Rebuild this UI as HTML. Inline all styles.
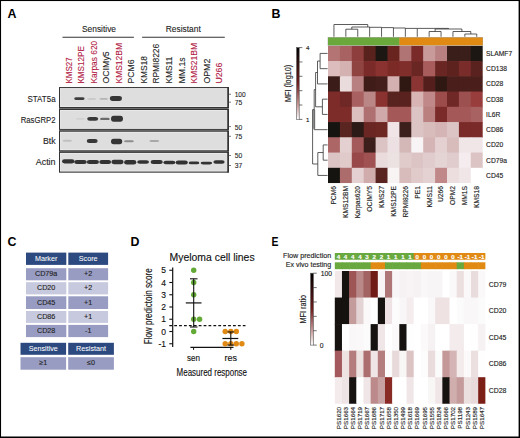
<!DOCTYPE html>
<html><head><meta charset="utf-8"><style>
html,body{margin:0;padding:0;background:#fff;}
body{width:520px;height:438px;overflow:hidden;}
svg{display:block;font-family:"Liberation Sans", sans-serif;}
</style></head><body>
<svg width="520" height="438" viewBox="0 0 520 438">
<rect x="0" y="0" width="520" height="438" fill="#fff"/>
<text x="7.60" y="18.20" font-size="12.4" fill="#000" text-anchor="start" font-weight="bold">A</text>
<text x="271.40" y="18.30" font-size="12.4" fill="#000" text-anchor="start" font-weight="bold">B</text>
<text x="7.40" y="246.20" font-size="12.4" fill="#000" text-anchor="start" font-weight="bold">C</text>
<text x="130.60" y="246.10" font-size="12.4" fill="#000" text-anchor="start" font-weight="bold">D</text>
<text x="0" y="0" font-size="12.4" font-weight="bold" fill="#000" transform="translate(271.6 245.9) scale(0.84 1)">E</text>
<text x="99.00" y="32.30" font-size="9" fill="#222" text-anchor="middle" textLength="34" lengthAdjust="spacingAndGlyphs" stroke="#222" stroke-width="0.1">Sensitive</text>
<text x="183.30" y="31.90" font-size="9" fill="#222" text-anchor="middle" textLength="35" lengthAdjust="spacingAndGlyphs" stroke="#222" stroke-width="0.1">Resistant</text>
<line x1="62.50" y1="37.20" x2="133.90" y2="37.20" stroke="#333" stroke-width="1.1"/>
<line x1="142.10" y1="37.20" x2="224.80" y2="37.20" stroke="#333" stroke-width="1.1"/>
<text x="72.35" y="83.60" font-size="8.6" fill="#b0173f" text-anchor="start" textLength="26.3" lengthAdjust="spacingAndGlyphs" transform="rotate(-90 72.35 83.60)" stroke="#b0173f" stroke-width="0.1">KMS27</text>
<text x="84.25" y="83.60" font-size="8.6" fill="#b0173f" text-anchor="start" textLength="37.5" lengthAdjust="spacingAndGlyphs" transform="rotate(-90 84.25 83.60)" stroke="#b0173f" stroke-width="0.1">KMS12PE</text>
<text x="97.35" y="83.60" font-size="8.6" fill="#b0173f" text-anchor="start" textLength="42.8" lengthAdjust="spacingAndGlyphs" transform="rotate(-90 97.35 83.60)" stroke="#b0173f" stroke-width="0.1">Karpas 620</text>
<text x="109.35" y="83.60" font-size="8.6" fill="#222" text-anchor="start" textLength="32.3" lengthAdjust="spacingAndGlyphs" transform="rotate(-90 109.35 83.60)" stroke="#222" stroke-width="0.1">OCIMy5</text>
<text x="122.10" y="83.60" font-size="8.6" fill="#b0173f" text-anchor="start" textLength="40.7" lengthAdjust="spacingAndGlyphs" transform="rotate(-90 122.10 83.60)" stroke="#b0173f" stroke-width="0.1">KMS12BM</text>
<text x="134.35" y="83.60" font-size="8.6" fill="#222" text-anchor="start" textLength="24.3" lengthAdjust="spacingAndGlyphs" transform="rotate(-90 134.35 83.60)" stroke="#222" stroke-width="0.1">PCM6</text>
<text x="146.85" y="83.60" font-size="8.6" fill="#222" text-anchor="start" textLength="27.6" lengthAdjust="spacingAndGlyphs" transform="rotate(-90 146.85 83.60)" stroke="#222" stroke-width="0.1">KMS18</text>
<text x="159.35" y="83.60" font-size="8.6" fill="#222" text-anchor="start" textLength="39.8" lengthAdjust="spacingAndGlyphs" transform="rotate(-90 159.35 83.60)" stroke="#222" stroke-width="0.1">RPMI8226</text>
<text x="172.50" y="83.60" font-size="8.6" fill="#222" text-anchor="start" textLength="27.0" lengthAdjust="spacingAndGlyphs" transform="rotate(-90 172.50 83.60)" stroke="#222" stroke-width="0.1">KMS11</text>
<text x="185.30" y="83.60" font-size="8.6" fill="#222" text-anchor="start" textLength="26.3" lengthAdjust="spacingAndGlyphs" transform="rotate(-90 185.30 83.60)" stroke="#222" stroke-width="0.1">MM.1s</text>
<text x="197.50" y="83.60" font-size="8.6" fill="#b0173f" text-anchor="start" textLength="40.7" lengthAdjust="spacingAndGlyphs" transform="rotate(-90 197.50 83.60)" stroke="#b0173f" stroke-width="0.1">KMS21BM</text>
<text x="210.20" y="83.60" font-size="8.6" fill="#222" text-anchor="start" textLength="24.9" lengthAdjust="spacingAndGlyphs" transform="rotate(-90 210.20 83.60)" stroke="#222" stroke-width="0.1">OPM2</text>
<text x="222.40" y="83.60" font-size="8.6" fill="#b0173f" text-anchor="start" textLength="20.9" lengthAdjust="spacingAndGlyphs" transform="rotate(-90 222.40 83.60)" stroke="#b0173f" stroke-width="0.1">U266</text>
<rect x="59" y="87.1" width="169.8" height="85.4" fill="#7a7a7a"/>
<rect x="59.55" y="87.65" width="168.7" height="19.90" fill="#dedede" stroke="#333" stroke-width="1.1"/>
<rect x="60.5" y="88.60" width="166.8" height="18.00" fill="none" stroke="#eeeeee" stroke-width="0.7"/>
<line x1="228.05" y1="87.10" x2="228.05" y2="108.10" stroke="#2e2e2e" stroke-width="1.5"/>
<rect x="59.55" y="109.45" width="168.7" height="19.80" fill="#dedede" stroke="#333" stroke-width="1.1"/>
<rect x="60.5" y="110.40" width="166.8" height="17.90" fill="none" stroke="#eeeeee" stroke-width="0.7"/>
<line x1="228.05" y1="108.90" x2="228.05" y2="129.80" stroke="#2e2e2e" stroke-width="1.5"/>
<rect x="59.55" y="131.25" width="168.7" height="19.50" fill="#dedede" stroke="#333" stroke-width="1.1"/>
<rect x="60.5" y="132.20" width="166.8" height="17.60" fill="none" stroke="#eeeeee" stroke-width="0.7"/>
<line x1="228.05" y1="130.70" x2="228.05" y2="151.30" stroke="#2e2e2e" stroke-width="1.5"/>
<rect x="59.55" y="152.35" width="168.7" height="19.60" fill="#dedede" stroke="#333" stroke-width="1.1"/>
<rect x="60.5" y="153.30" width="166.8" height="17.70" fill="none" stroke="#eeeeee" stroke-width="0.7"/>
<line x1="228.05" y1="151.80" x2="228.05" y2="172.50" stroke="#2e2e2e" stroke-width="1.5"/>
<text x="55.60" y="101.80" font-size="9" fill="#222" text-anchor="end" textLength="28.1" lengthAdjust="spacingAndGlyphs" stroke="#222" stroke-width="0.1">STAT5a</text>
<text x="55.60" y="123.00" font-size="9" fill="#222" text-anchor="end" textLength="34.9" lengthAdjust="spacingAndGlyphs" stroke="#222" stroke-width="0.1">RasGRP2</text>
<text x="55.60" y="143.60" font-size="9" fill="#222" text-anchor="end" textLength="12.7" lengthAdjust="spacingAndGlyphs" stroke="#222" stroke-width="0.1">Btk</text>
<text x="55.60" y="164.70" font-size="9" fill="#222" text-anchor="end" textLength="19.9" lengthAdjust="spacingAndGlyphs" stroke="#222" stroke-width="0.1">Actin</text>
<defs><filter id="bl" x="-50%" y="-100%" width="200%" height="300%"><feGaussianBlur stdDeviation="0.75"/></filter></defs>
<rect x="74.20" y="97.25" width="10.40" height="2.80" rx="2.34" ry="1.40" fill="#3c3c3c" opacity="1.0" filter="url(#bl)"/>
<rect x="87.20" y="98.30" width="9.00" height="1.40" rx="2.02" ry="0.70" fill="#c4c4c4" opacity="1.0" filter="url(#bl)"/>
<rect x="99.40" y="98.10" width="8.60" height="1.60" rx="1.94" ry="0.80" fill="#b4b4b4" opacity="1.0" filter="url(#bl)"/>
<rect x="109.90" y="96.10" width="12.00" height="4.80" rx="2.70" ry="2.40" fill="#363636" opacity="1.0" filter="url(#bl)"/>
<rect x="75.90" y="118.20" width="9.00" height="1.40" rx="2.02" ry="0.70" fill="#cccccc" opacity="1.0" filter="url(#bl)"/>
<rect x="87.20" y="116.90" width="11.00" height="3.90" rx="2.48" ry="1.95" fill="#393939" opacity="1.0" filter="url(#bl)"/>
<rect x="100.10" y="117.70" width="9.60" height="2.40" rx="2.16" ry="1.20" fill="#6a6a6a" opacity="1.0" filter="url(#bl)"/>
<rect x="111.00" y="115.70" width="12.00" height="6.00" rx="2.70" ry="3.00" fill="#343434" opacity="1.0" filter="url(#bl)"/>
<rect x="62.70" y="139.80" width="9.20" height="2.00" rx="2.07" ry="1.00" fill="#c0c0c0" opacity="1.0" filter="url(#bl)"/>
<rect x="86.75" y="139.10" width="10.90" height="4.00" rx="2.45" ry="2.00" fill="#383838" opacity="1.0" filter="url(#bl)"/>
<rect x="111.00" y="138.70" width="11.20" height="5.60" rx="2.52" ry="2.80" fill="#343434" opacity="1.0" filter="url(#bl)"/>
<rect x="124.00" y="140.20" width="9.80" height="2.00" rx="2.21" ry="1.00" fill="#8c8c8c" opacity="1.0" filter="url(#bl)"/>
<rect x="149.40" y="140.10" width="9.80" height="2.00" rx="2.21" ry="1.00" fill="#a8a8a8" opacity="1.0" filter="url(#bl)"/>
<rect x="62.00" y="159.20" width="12.50" height="4.20" rx="2.50" ry="2.10" fill="#333333" opacity="1.0" filter="url(#bl)"/>
<rect x="74.25" y="159.90" width="12.50" height="4.20" rx="2.50" ry="2.10" fill="#333333" opacity="1.0" filter="url(#bl)"/>
<rect x="86.80" y="160.00" width="12.20" height="4.00" rx="2.50" ry="2.00" fill="#333333" opacity="1.0" filter="url(#bl)"/>
<rect x="99.30" y="160.10" width="11.80" height="3.80" rx="2.50" ry="1.90" fill="#333333" opacity="1.0" filter="url(#bl)"/>
<rect x="111.40" y="159.85" width="12.20" height="4.30" rx="2.50" ry="2.15" fill="#333333" opacity="1.0" filter="url(#bl)"/>
<rect x="124.10" y="159.90" width="12.20" height="4.60" rx="2.50" ry="2.30" fill="#333333" opacity="1.0" filter="url(#bl)"/>
<rect x="137.20" y="160.15" width="11.80" height="3.50" rx="2.50" ry="1.75" fill="#333333" opacity="1.0" filter="url(#bl)"/>
<rect x="150.65" y="160.10" width="12.10" height="3.80" rx="2.50" ry="1.90" fill="#333333" opacity="1.0" filter="url(#bl)"/>
<rect x="163.40" y="160.75" width="12.00" height="3.50" rx="2.50" ry="1.75" fill="#333333" opacity="1.0" filter="url(#bl)"/>
<rect x="175.70" y="160.50" width="12.10" height="4.00" rx="2.50" ry="2.00" fill="#333333" opacity="1.0" filter="url(#bl)"/>
<rect x="188.70" y="161.60" width="10.60" height="2.60" rx="2.50" ry="1.30" fill="#333333" opacity="1.0" filter="url(#bl)"/>
<rect x="200.65" y="161.80" width="11.50" height="2.60" rx="2.50" ry="1.30" fill="#333333" opacity="1.0" filter="url(#bl)"/>
<rect x="213.35" y="160.30" width="11.30" height="3.40" rx="2.50" ry="1.70" fill="#333333" opacity="1.0" filter="url(#bl)"/>
<line x1="228.80" y1="94.25" x2="231.00" y2="94.25" stroke="#555" stroke-width="0.8"/>
<text x="234.70" y="97.15" font-size="7.3" fill="#222" text-anchor="start" textLength="11.0" lengthAdjust="spacingAndGlyphs" stroke="#222" stroke-width="0.1">100</text>
<line x1="228.80" y1="102.20" x2="231.00" y2="102.20" stroke="#555" stroke-width="0.8"/>
<text x="234.70" y="105.10" font-size="7.3" fill="#222" text-anchor="start" textLength="7.5" lengthAdjust="spacingAndGlyphs" stroke="#222" stroke-width="0.1">75</text>
<line x1="228.80" y1="126.60" x2="231.00" y2="126.60" stroke="#555" stroke-width="0.8"/>
<text x="234.70" y="129.50" font-size="7.3" fill="#222" text-anchor="start" textLength="7.5" lengthAdjust="spacingAndGlyphs" stroke="#222" stroke-width="0.1">50</text>
<line x1="228.80" y1="136.30" x2="231.00" y2="136.30" stroke="#555" stroke-width="0.8"/>
<text x="234.70" y="139.20" font-size="7.3" fill="#222" text-anchor="start" textLength="7.5" lengthAdjust="spacingAndGlyphs" stroke="#222" stroke-width="0.1">75</text>
<line x1="228.80" y1="155.50" x2="231.00" y2="155.50" stroke="#555" stroke-width="0.8"/>
<text x="234.70" y="158.40" font-size="7.3" fill="#222" text-anchor="start" textLength="7.5" lengthAdjust="spacingAndGlyphs" stroke="#222" stroke-width="0.1">50</text>
<line x1="228.80" y1="165.50" x2="231.00" y2="165.50" stroke="#555" stroke-width="0.8"/>
<text x="234.70" y="168.40" font-size="7.3" fill="#222" text-anchor="start" textLength="7.5" lengthAdjust="spacingAndGlyphs" stroke="#222" stroke-width="0.1">37</text>
<rect x="328.00" y="45.80" width="12.50" height="15.85" fill="#b47474"/>
<rect x="339.90" y="45.80" width="12.50" height="15.85" fill="#a86262"/>
<rect x="351.80" y="45.80" width="12.50" height="15.85" fill="#8e3e3c"/>
<rect x="363.70" y="45.80" width="12.50" height="15.85" fill="#5a221c"/>
<rect x="375.60" y="45.80" width="12.50" height="15.85" fill="#1c1712"/>
<rect x="387.50" y="45.80" width="12.50" height="15.85" fill="#6a2420"/>
<rect x="399.40" y="45.80" width="12.50" height="15.85" fill="#b07474"/>
<rect x="411.30" y="45.80" width="12.50" height="15.85" fill="#7a2a28"/>
<rect x="423.20" y="45.80" width="12.50" height="15.85" fill="#c89a9a"/>
<rect x="435.10" y="45.80" width="12.50" height="15.85" fill="#b88080"/>
<rect x="447.00" y="45.80" width="12.50" height="15.85" fill="#3a1e1a"/>
<rect x="458.90" y="45.80" width="12.50" height="15.85" fill="#3a1e1a"/>
<rect x="470.80" y="45.80" width="11.90" height="15.85" fill="#1c1712"/>
<rect x="328.00" y="61.05" width="12.50" height="15.85" fill="#dcbcbc"/>
<rect x="339.90" y="61.05" width="12.50" height="15.85" fill="#d4b2b2"/>
<rect x="351.80" y="61.05" width="12.50" height="15.85" fill="#904442"/>
<rect x="363.70" y="61.05" width="12.50" height="15.85" fill="#7a2a28"/>
<rect x="375.60" y="61.05" width="12.50" height="15.85" fill="#8a3230"/>
<rect x="387.50" y="61.05" width="12.50" height="15.85" fill="#7c2a26"/>
<rect x="399.40" y="61.05" width="12.50" height="15.85" fill="#802e2c"/>
<rect x="411.30" y="61.05" width="12.50" height="15.85" fill="#6a2622"/>
<rect x="423.20" y="61.05" width="12.50" height="15.85" fill="#a85c5c"/>
<rect x="435.10" y="61.05" width="12.50" height="15.85" fill="#6a2622"/>
<rect x="447.00" y="61.05" width="12.50" height="15.85" fill="#5e221e"/>
<rect x="458.90" y="61.05" width="12.50" height="15.85" fill="#7a2c2a"/>
<rect x="470.80" y="61.05" width="11.90" height="15.85" fill="#5a221e"/>
<rect x="328.00" y="76.30" width="12.50" height="15.85" fill="#3c1c18"/>
<rect x="339.90" y="76.30" width="12.50" height="15.85" fill="#eadcdc"/>
<rect x="351.80" y="76.30" width="12.50" height="15.85" fill="#b88080"/>
<rect x="363.70" y="76.30" width="12.50" height="15.85" fill="#401c18"/>
<rect x="375.60" y="76.30" width="12.50" height="15.85" fill="#441e1a"/>
<rect x="387.50" y="76.30" width="12.50" height="15.85" fill="#d4b0b0"/>
<rect x="399.40" y="76.30" width="12.50" height="15.85" fill="#301812"/>
<rect x="411.30" y="76.30" width="12.50" height="15.85" fill="#8a3434"/>
<rect x="423.20" y="76.30" width="12.50" height="15.85" fill="#541e1c"/>
<rect x="435.10" y="76.30" width="12.50" height="15.85" fill="#301812"/>
<rect x="447.00" y="76.30" width="12.50" height="15.85" fill="#4a1e1a"/>
<rect x="458.90" y="76.30" width="12.50" height="15.85" fill="#4a1e1a"/>
<rect x="470.80" y="76.30" width="11.90" height="15.85" fill="#4a1e1a"/>
<rect x="328.00" y="91.55" width="12.50" height="15.85" fill="#7e2c2a"/>
<rect x="339.90" y="91.55" width="12.50" height="15.85" fill="#702826"/>
<rect x="351.80" y="91.55" width="12.50" height="15.85" fill="#a86060"/>
<rect x="363.70" y="91.55" width="12.50" height="15.85" fill="#ba8686"/>
<rect x="375.60" y="91.55" width="12.50" height="15.85" fill="#8a3230"/>
<rect x="387.50" y="91.55" width="12.50" height="15.85" fill="#58221e"/>
<rect x="399.40" y="91.55" width="12.50" height="15.85" fill="#5a221e"/>
<rect x="411.30" y="91.55" width="12.50" height="15.85" fill="#d8b4b4"/>
<rect x="423.20" y="91.55" width="12.50" height="15.85" fill="#c08888"/>
<rect x="435.10" y="91.55" width="12.50" height="15.85" fill="#9c4c4a"/>
<rect x="447.00" y="91.55" width="12.50" height="15.85" fill="#702826"/>
<rect x="458.90" y="91.55" width="12.50" height="15.85" fill="#9c5050"/>
<rect x="470.80" y="91.55" width="11.90" height="15.85" fill="#983c3c"/>
<rect x="328.00" y="106.80" width="12.50" height="15.85" fill="#7e2c2a"/>
<rect x="339.90" y="106.80" width="12.50" height="15.85" fill="#7e2c2a"/>
<rect x="351.80" y="106.80" width="12.50" height="15.85" fill="#dcc0c0"/>
<rect x="363.70" y="106.80" width="12.50" height="15.85" fill="#ae7070"/>
<rect x="375.60" y="106.80" width="12.50" height="15.85" fill="#d0aaaa"/>
<rect x="387.50" y="106.80" width="12.50" height="15.85" fill="#a45858"/>
<rect x="399.40" y="106.80" width="12.50" height="15.85" fill="#a45858"/>
<rect x="411.30" y="106.80" width="12.50" height="15.85" fill="#dcc4c4"/>
<rect x="423.20" y="106.80" width="12.50" height="15.85" fill="#ba8080"/>
<rect x="435.10" y="106.80" width="12.50" height="15.85" fill="#7a2a28"/>
<rect x="447.00" y="106.80" width="12.50" height="15.85" fill="#a45858"/>
<rect x="458.90" y="106.80" width="12.50" height="15.85" fill="#a45858"/>
<rect x="470.80" y="106.80" width="11.90" height="15.85" fill="#a86262"/>
<rect x="328.00" y="122.05" width="12.50" height="15.85" fill="#151410"/>
<rect x="339.90" y="122.05" width="12.50" height="15.85" fill="#5a2420"/>
<rect x="351.80" y="122.05" width="12.50" height="15.85" fill="#2c1a16"/>
<rect x="363.70" y="122.05" width="12.50" height="15.85" fill="#6a2622"/>
<rect x="375.60" y="122.05" width="12.50" height="15.85" fill="#6e2824"/>
<rect x="387.50" y="122.05" width="12.50" height="15.85" fill="#f0e4e6"/>
<rect x="399.40" y="122.05" width="12.50" height="15.85" fill="#3c1e1a"/>
<rect x="411.30" y="122.05" width="12.50" height="15.85" fill="#dcc4c4"/>
<rect x="423.20" y="122.05" width="12.50" height="15.85" fill="#d8bcbc"/>
<rect x="435.10" y="122.05" width="12.50" height="15.85" fill="#d4b4b4"/>
<rect x="447.00" y="122.05" width="12.50" height="15.85" fill="#dcc4c4"/>
<rect x="458.90" y="122.05" width="12.50" height="15.85" fill="#7a2a28"/>
<rect x="470.80" y="122.05" width="11.90" height="15.85" fill="#7a2a28"/>
<rect x="328.00" y="137.30" width="12.50" height="15.85" fill="#ac6666"/>
<rect x="339.90" y="137.30" width="12.50" height="15.85" fill="#e4d0d0"/>
<rect x="351.80" y="137.30" width="12.50" height="15.85" fill="#a45a5a"/>
<rect x="363.70" y="137.30" width="12.50" height="15.85" fill="#3c1e1a"/>
<rect x="375.60" y="137.30" width="12.50" height="15.85" fill="#dcc4c4"/>
<rect x="387.50" y="137.30" width="12.50" height="15.85" fill="#ece0e2"/>
<rect x="399.40" y="137.30" width="12.50" height="15.85" fill="#d4b8b8"/>
<rect x="411.30" y="137.30" width="12.50" height="15.85" fill="#f8f4f6"/>
<rect x="423.20" y="137.30" width="12.50" height="15.85" fill="#d4b4b4"/>
<rect x="435.10" y="137.30" width="12.50" height="15.85" fill="#e4d0d0"/>
<rect x="447.00" y="137.30" width="12.50" height="15.85" fill="#d8bcbc"/>
<rect x="458.90" y="137.30" width="12.50" height="15.85" fill="#f0e6e8"/>
<rect x="470.80" y="137.30" width="11.90" height="15.85" fill="#f0e6e8"/>
<rect x="328.00" y="152.55" width="12.50" height="15.85" fill="#dcc4c4"/>
<rect x="339.90" y="152.55" width="12.50" height="15.85" fill="#e0caca"/>
<rect x="351.80" y="152.55" width="12.50" height="15.85" fill="#984848"/>
<rect x="363.70" y="152.55" width="12.50" height="15.85" fill="#a05252"/>
<rect x="375.60" y="152.55" width="12.50" height="15.85" fill="#eadcdc"/>
<rect x="387.50" y="152.55" width="12.50" height="15.85" fill="#ece2e2"/>
<rect x="399.40" y="152.55" width="12.50" height="15.85" fill="#e0caca"/>
<rect x="411.30" y="152.55" width="12.50" height="15.85" fill="#dcc4c4"/>
<rect x="423.20" y="152.55" width="12.50" height="15.85" fill="#e0cccc"/>
<rect x="435.10" y="152.55" width="12.50" height="15.85" fill="#e4d4d4"/>
<rect x="447.00" y="152.55" width="12.50" height="15.85" fill="#e0cccc"/>
<rect x="458.90" y="152.55" width="12.50" height="15.85" fill="#f4ecee"/>
<rect x="470.80" y="152.55" width="11.90" height="15.85" fill="#dcc4c4"/>
<rect x="328.00" y="167.80" width="12.50" height="15.25" fill="#151410"/>
<rect x="339.90" y="167.80" width="12.50" height="15.25" fill="#ac6c6c"/>
<rect x="351.80" y="167.80" width="12.50" height="15.25" fill="#e4d0d0"/>
<rect x="363.70" y="167.80" width="12.50" height="15.25" fill="#d0acac"/>
<rect x="375.60" y="167.80" width="12.50" height="15.25" fill="#5a2420"/>
<rect x="387.50" y="167.80" width="12.50" height="15.25" fill="#f8f4f4"/>
<rect x="399.40" y="167.80" width="12.50" height="15.25" fill="#d8bcbc"/>
<rect x="411.30" y="167.80" width="12.50" height="15.25" fill="#e0caca"/>
<rect x="423.20" y="167.80" width="12.50" height="15.25" fill="#e4d2d2"/>
<rect x="435.10" y="167.80" width="12.50" height="15.25" fill="#c08888"/>
<rect x="447.00" y="167.80" width="12.50" height="15.25" fill="#ecdede"/>
<rect x="458.90" y="167.80" width="12.50" height="15.25" fill="#f0e6e8"/>
<rect x="470.80" y="167.80" width="11.90" height="15.25" fill="#ffffff"/>
<rect x="327.70" y="37.10" width="155.30" height="8.60" fill="#a8a8a8"/>
<rect x="328.00" y="37.50" width="71.40" height="7.80" fill="#6aa83c"/>
<rect x="399.40" y="37.50" width="83.30" height="7.80" fill="#e08a14"/>
<text x="486.10" y="55.82" font-size="6.7" fill="#222" text-anchor="start" stroke="#222" stroke-width="0.13">SLAMF7</text>
<text x="486.10" y="71.08" font-size="6.7" fill="#222" text-anchor="start" stroke="#222" stroke-width="0.13">CD138</text>
<text x="486.10" y="86.33" font-size="6.7" fill="#222" text-anchor="start" stroke="#222" stroke-width="0.13">CD28</text>
<text x="486.10" y="101.58" font-size="6.7" fill="#222" text-anchor="start" stroke="#222" stroke-width="0.13">CD38</text>
<text x="486.10" y="116.83" font-size="6.7" fill="#222" text-anchor="start" stroke="#222" stroke-width="0.13">IL6R</text>
<text x="486.10" y="132.08" font-size="6.7" fill="#222" text-anchor="start" stroke="#222" stroke-width="0.13">CD86</text>
<text x="486.10" y="147.33" font-size="6.7" fill="#222" text-anchor="start" stroke="#222" stroke-width="0.13">CD20</text>
<text x="486.10" y="162.58" font-size="6.7" fill="#222" text-anchor="start" stroke="#222" stroke-width="0.13">CD79a</text>
<text x="486.10" y="177.83" font-size="6.7" fill="#222" text-anchor="start" stroke="#222" stroke-width="0.13">CD45</text>
<text x="336.35" y="186.00" font-size="6.7" fill="#222" text-anchor="end" stroke="#222" stroke-width="0.13" transform="rotate(-90 336.35 186.00)">PCM6</text>
<text x="348.25" y="186.00" font-size="6.7" fill="#222" text-anchor="end" stroke="#222" stroke-width="0.13" transform="rotate(-90 348.25 186.00)">KMS12BM</text>
<text x="360.15" y="186.00" font-size="6.7" fill="#222" text-anchor="end" stroke="#222" stroke-width="0.13" transform="rotate(-90 360.15 186.00)">Karpas620</text>
<text x="372.05" y="186.00" font-size="6.7" fill="#222" text-anchor="end" stroke="#222" stroke-width="0.13" transform="rotate(-90 372.05 186.00)">OCIMY5</text>
<text x="383.95" y="186.00" font-size="6.7" fill="#222" text-anchor="end" stroke="#222" stroke-width="0.13" transform="rotate(-90 383.95 186.00)">KMS27</text>
<text x="395.85" y="186.00" font-size="6.7" fill="#222" text-anchor="end" stroke="#222" stroke-width="0.13" transform="rotate(-90 395.85 186.00)">KMS12PE</text>
<text x="407.75" y="186.00" font-size="6.7" fill="#222" text-anchor="end" stroke="#222" stroke-width="0.13" transform="rotate(-90 407.75 186.00)">RPMI8226</text>
<text x="419.65" y="186.00" font-size="6.7" fill="#222" text-anchor="end" stroke="#222" stroke-width="0.13" transform="rotate(-90 419.65 186.00)">PE1</text>
<text x="431.55" y="186.00" font-size="6.7" fill="#222" text-anchor="end" stroke="#222" stroke-width="0.13" transform="rotate(-90 431.55 186.00)">KMS11</text>
<text x="443.45" y="186.00" font-size="6.7" fill="#222" text-anchor="end" stroke="#222" stroke-width="0.13" transform="rotate(-90 443.45 186.00)">U266</text>
<text x="455.35" y="186.00" font-size="6.7" fill="#222" text-anchor="end" stroke="#222" stroke-width="0.13" transform="rotate(-90 455.35 186.00)">OPM2</text>
<text x="467.25" y="186.00" font-size="6.7" fill="#222" text-anchor="end" stroke="#222" stroke-width="0.13" transform="rotate(-90 467.25 186.00)">MM1S</text>
<text x="479.15" y="186.00" font-size="6.7" fill="#222" text-anchor="end" stroke="#222" stroke-width="0.13" transform="rotate(-90 479.15 186.00)">KMS18</text>
<defs><linearGradient id="gB" x1="0" y1="0" x2="0" y2="1"><stop offset="0" stop-color="#000"/><stop offset="0.5" stop-color="#6e1c1c"/><stop offset="0.8" stop-color="#c89a9a"/><stop offset="1" stop-color="#fff"/></linearGradient></defs>
<rect x="296.6" y="47.6" width="2.6" height="71.8" fill="url(#gB)" stroke="#555" stroke-width="0.6"/>
<line x1="299.20" y1="47.60" x2="302.40" y2="47.60" stroke="#333" stroke-width="0.7"/>
<line x1="299.20" y1="61.96" x2="302.40" y2="61.96" stroke="#333" stroke-width="0.7"/>
<line x1="299.20" y1="76.32" x2="302.40" y2="76.32" stroke="#333" stroke-width="0.7"/>
<line x1="299.20" y1="90.68" x2="302.40" y2="90.68" stroke="#333" stroke-width="0.7"/>
<line x1="299.20" y1="105.04" x2="302.40" y2="105.04" stroke="#333" stroke-width="0.7"/>
<line x1="299.20" y1="119.40" x2="302.40" y2="119.40" stroke="#333" stroke-width="0.7"/>
<text x="306.00" y="50.00" font-size="6.2" fill="#222" text-anchor="start" stroke="#222" stroke-width="0.13">4</text>
<text x="306.00" y="121.50" font-size="6.2" fill="#222" text-anchor="start" stroke="#222" stroke-width="0.13">1</text>
<text x="291.50" y="83.40" font-size="8.2" fill="#222" text-anchor="middle" stroke="#222" stroke-width="0.13" textLength="37.4" lengthAdjust="spacingAndGlyphs" transform="rotate(-90 291.50 83.40)">MFI (log10)</text>
<path d="M345.85 36.8 V29.2 H357.75 V36.8" fill="none" stroke="#333" stroke-width="0.8"/>
<path d="M351.80 29.2 V27.0 H369.65 V36.8" fill="none" stroke="#333" stroke-width="0.8"/>
<path d="M381.55 36.8 V27.3 H369.65" fill="none" stroke="#333" stroke-width="0.8"/>
<path d="M393.45 36.8 V27.6 H381.55" fill="none" stroke="#333" stroke-width="0.8"/>
<path d="M405.35 36.8 V28.0 H393.45" fill="none" stroke="#333" stroke-width="0.8"/>
<path d="M417.25 36.8 V28.4 H405.35" fill="none" stroke="#333" stroke-width="0.8"/>
<path d="M429.15 36.8 V31.5 H441.05 V36.8" fill="none" stroke="#333" stroke-width="0.8"/>
<path d="M464.85 36.8 V34.0 H476.75 V36.8" fill="none" stroke="#333" stroke-width="0.8"/>
<path d="M452.95 36.8 V31.5 H470.80 V34.0" fill="none" stroke="#333" stroke-width="0.8"/>
<path d="M435.10 31.5 V29.0 H461.88 V31.5" fill="none" stroke="#333" stroke-width="0.8"/>
<path d="M417.25 28.4 H448.49 V29.0" fill="none" stroke="#333" stroke-width="0.8"/>
<path d="M333.95 36.8 V24.5 H367.73 V27.0" fill="none" stroke="#333" stroke-width="0.8"/>
<rect x="312.70" y="109.60" width="2.60" height="19.20" fill="#b4b4b4"/>
<path d="M327.6 53.42 H320.1 V68.67 H327.6" fill="none" stroke="#333" stroke-width="0.8"/>
<path d="M320.1 61.05 H317.5 V83.92 H327.6" fill="none" stroke="#333" stroke-width="0.8"/>
<path d="M327.6 99.17 H322.4 V114.42 H327.6" fill="none" stroke="#333" stroke-width="0.8"/>
<path d="M317.5 72.49 H315.6 V106.80 H322.4" fill="none" stroke="#333" stroke-width="0.8"/>
<path d="M315.6 89.64 H314.2 V129.68 H327.6" fill="none" stroke="#333" stroke-width="0.8"/>
<path d="M327.6 144.93 H323.2 V160.18 H327.6" fill="none" stroke="#333" stroke-width="0.8"/>
<path d="M323.2 152.55 H317.8 V175.43 H327.6" fill="none" stroke="#333" stroke-width="0.8"/>
<path d="M314.2 109.66 H312.6 V163.99 H317.8" fill="none" stroke="#333" stroke-width="0.8"/>
<rect x="26.00" y="252.60" width="40.30" height="12.30" fill="#2d4a80"/>
<text x="46.15" y="260.65" font-size="7.2" fill="#fff" text-anchor="middle" stroke="#fff" stroke-width="0.05">Marker</text>
<rect x="68.30" y="252.60" width="39.80" height="12.30" fill="#2d4a80"/>
<text x="88.20" y="260.65" font-size="7.2" fill="#fff" text-anchor="middle" stroke="#fff" stroke-width="0.05">Score</text>
<rect x="26.00" y="268.20" width="40.30" height="12.10" fill="#989cc2"/>
<text x="46.15" y="276.15" font-size="7.2" fill="#222" text-anchor="middle" stroke="#222" stroke-width="0.12">CD79a</text>
<rect x="68.30" y="268.20" width="39.80" height="12.10" fill="#989cc2"/>
<text x="88.20" y="276.15" font-size="7.2" fill="#222" text-anchor="middle" stroke="#222" stroke-width="0.12">+2</text>
<rect x="26.00" y="282.20" width="40.30" height="12.20" fill="#c7c9de"/>
<text x="46.15" y="290.20" font-size="7.2" fill="#222" text-anchor="middle" stroke="#222" stroke-width="0.12">CD20</text>
<rect x="68.30" y="282.20" width="39.80" height="12.20" fill="#c7c9de"/>
<text x="88.20" y="290.20" font-size="7.2" fill="#222" text-anchor="middle" stroke="#222" stroke-width="0.12">+2</text>
<rect x="26.00" y="296.30" width="40.30" height="12.70" fill="#989cc2"/>
<text x="46.15" y="304.55" font-size="7.2" fill="#222" text-anchor="middle" stroke="#222" stroke-width="0.12">CD45</text>
<rect x="68.30" y="296.30" width="39.80" height="12.70" fill="#989cc2"/>
<text x="88.20" y="304.55" font-size="7.2" fill="#222" text-anchor="middle" stroke="#222" stroke-width="0.12">+1</text>
<rect x="26.00" y="311.00" width="40.30" height="11.90" fill="#c7c9de"/>
<text x="46.15" y="318.85" font-size="7.2" fill="#222" text-anchor="middle" stroke="#222" stroke-width="0.12">CD86</text>
<rect x="68.30" y="311.00" width="39.80" height="11.90" fill="#c7c9de"/>
<text x="88.20" y="318.85" font-size="7.2" fill="#222" text-anchor="middle" stroke="#222" stroke-width="0.12">+1</text>
<rect x="26.00" y="324.90" width="40.30" height="12.20" fill="#989cc2"/>
<text x="46.15" y="332.90" font-size="7.2" fill="#222" text-anchor="middle" stroke="#222" stroke-width="0.12">CD28</text>
<rect x="68.30" y="324.90" width="39.80" height="12.20" fill="#989cc2"/>
<text x="88.20" y="332.90" font-size="7.2" fill="#222" text-anchor="middle" stroke="#222" stroke-width="0.12">-1</text>
<rect x="20.50" y="342.80" width="45.60" height="12.00" fill="#2d4a80"/>
<text x="43.30" y="350.70" font-size="7.2" fill="#fff" text-anchor="middle" stroke="#fff" stroke-width="0.05">Sensitive</text>
<rect x="68.20" y="342.80" width="45.70" height="12.00" fill="#2d4a80"/>
<text x="91.05" y="350.70" font-size="7.2" fill="#fff" text-anchor="middle" stroke="#fff" stroke-width="0.05">Resistant</text>
<rect x="20.50" y="357.20" width="45.60" height="12.50" fill="#989cc2"/>
<text x="43.30" y="365.35" font-size="7.2" fill="#222" text-anchor="middle" stroke="#222" stroke-width="0.12">&#8805;1</text>
<rect x="68.20" y="357.20" width="45.70" height="12.50" fill="#989cc2"/>
<text x="91.05" y="365.35" font-size="7.2" fill="#222" text-anchor="middle" stroke="#222" stroke-width="0.12">&#8804;0</text>
<text x="169.60" y="261.30" font-size="10.2" fill="#111" text-anchor="start" stroke="#111" stroke-width="0.13" textLength="85" lengthAdjust="spacingAndGlyphs">Myeloma cell lines</text>
<line x1="172.70" y1="267.60" x2="172.70" y2="347.00" stroke="#111" stroke-width="1.2"/>
<line x1="169.30" y1="343.75" x2="172.70" y2="343.75" stroke="#111" stroke-width="1.1"/>
<text x="166.10" y="346.75" font-size="8.5" fill="#111" text-anchor="end" stroke="#111" stroke-width="0.13">-1</text>
<line x1="169.30" y1="331.50" x2="172.70" y2="331.50" stroke="#111" stroke-width="1.1"/>
<text x="166.10" y="334.50" font-size="8.5" fill="#111" text-anchor="end" stroke="#111" stroke-width="0.13">0</text>
<line x1="169.30" y1="319.25" x2="172.70" y2="319.25" stroke="#111" stroke-width="1.1"/>
<text x="166.10" y="322.25" font-size="8.5" fill="#111" text-anchor="end" stroke="#111" stroke-width="0.13">1</text>
<line x1="169.30" y1="307.00" x2="172.70" y2="307.00" stroke="#111" stroke-width="1.1"/>
<text x="166.10" y="310.00" font-size="8.5" fill="#111" text-anchor="end" stroke="#111" stroke-width="0.13">2</text>
<line x1="169.30" y1="294.75" x2="172.70" y2="294.75" stroke="#111" stroke-width="1.1"/>
<text x="166.10" y="297.75" font-size="8.5" fill="#111" text-anchor="end" stroke="#111" stroke-width="0.13">3</text>
<line x1="169.30" y1="282.50" x2="172.70" y2="282.50" stroke="#111" stroke-width="1.1"/>
<text x="166.10" y="285.50" font-size="8.5" fill="#111" text-anchor="end" stroke="#111" stroke-width="0.13">4</text>
<line x1="169.30" y1="270.25" x2="172.70" y2="270.25" stroke="#111" stroke-width="1.1"/>
<text x="166.10" y="273.25" font-size="8.5" fill="#111" text-anchor="end" stroke="#111" stroke-width="0.13">5</text>
<text x="152.00" y="306.30" font-size="10.4" fill="#111" text-anchor="middle" stroke="#111" stroke-width="0.13" textLength="76" lengthAdjust="spacingAndGlyphs" transform="rotate(-90 152.00 306.30)">Flow predictoin score</text>
<line x1="169.30" y1="325.60" x2="245.50" y2="325.60" stroke="#111" stroke-width="1.1" stroke-dasharray="2.8,2.1"/>
<line x1="190.40" y1="347.40" x2="233.50" y2="347.40" stroke="#111" stroke-width="1.3"/>
<line x1="193.60" y1="347.40" x2="193.60" y2="349.90" stroke="#111" stroke-width="1.0"/>
<line x1="230.80" y1="347.40" x2="230.80" y2="349.90" stroke="#111" stroke-width="1.0"/>
<text x="193.60" y="361.40" font-size="8.8" fill="#111" text-anchor="middle" stroke="#111" stroke-width="0.13" textLength="13" lengthAdjust="spacingAndGlyphs">sen</text>
<text x="230.80" y="361.40" font-size="8.8" fill="#111" text-anchor="middle" stroke="#111" stroke-width="0.13" textLength="12.5" lengthAdjust="spacingAndGlyphs">res</text>
<text x="176.60" y="375.60" font-size="10.7" fill="#111" text-anchor="start" stroke="#111" stroke-width="0.13" textLength="70.4" lengthAdjust="spacingAndGlyphs">Measured response</text>
<circle cx="193.7" cy="270.25" r="2.7" fill="#62a935"/>
<circle cx="193.7" cy="282.50" r="2.7" fill="#62a935"/>
<circle cx="193.7" cy="294.75" r="2.7" fill="#62a935"/>
<circle cx="193.7" cy="319.25" r="2.7" fill="#62a935"/>
<circle cx="199.6" cy="319.25" r="2.7" fill="#62a935"/>
<circle cx="193.7" cy="331.50" r="2.7" fill="#62a935"/>
<circle cx="225.2" cy="331.50" r="2.7" fill="#e08a14"/>
<circle cx="230.8" cy="331.50" r="2.7" fill="#e08a14"/>
<circle cx="236.3" cy="331.50" r="2.7" fill="#e08a14"/>
<circle cx="225.2" cy="343.75" r="2.7" fill="#e08a14"/>
<circle cx="230.8" cy="343.75" r="2.7" fill="#e08a14"/>
<circle cx="236.3" cy="343.75" r="2.7" fill="#e08a14"/>
<circle cx="241.9" cy="343.75" r="2.7" fill="#e08a14"/>
<line x1="193.70" y1="278.82" x2="193.70" y2="327.00" stroke="#111" stroke-width="1.1"/>
<line x1="190.00" y1="278.82" x2="197.50" y2="278.82" stroke="#111" stroke-width="1.1"/>
<line x1="190.00" y1="327.00" x2="197.50" y2="327.00" stroke="#111" stroke-width="1.1"/>
<line x1="185.80" y1="302.92" x2="201.50" y2="302.92" stroke="#111" stroke-width="1.2"/>
<line x1="230.80" y1="331.94" x2="230.80" y2="345.06" stroke="#111" stroke-width="1.1"/>
<line x1="227.50" y1="331.94" x2="234.10" y2="331.94" stroke="#111" stroke-width="1.1"/>
<line x1="227.50" y1="345.06" x2="234.10" y2="345.06" stroke="#111" stroke-width="1.1"/>
<line x1="222.40" y1="338.49" x2="238.30" y2="338.49" stroke="#111" stroke-width="1.2"/>
<rect x="334.80" y="271.00" width="7.77" height="27.15" fill="#f2e8e9"/>
<rect x="341.97" y="271.00" width="7.77" height="27.15" fill="#151210"/>
<rect x="349.14" y="271.00" width="7.77" height="27.15" fill="#9e5555"/>
<rect x="356.31" y="271.00" width="7.77" height="27.15" fill="#b98888"/>
<rect x="363.48" y="271.00" width="7.77" height="27.15" fill="#a46363"/>
<rect x="370.65" y="271.00" width="7.77" height="27.15" fill="#6f1a14"/>
<rect x="377.82" y="271.00" width="7.77" height="27.15" fill="#f8f4f5"/>
<rect x="384.99" y="271.00" width="7.77" height="27.15" fill="#ae7676"/>
<rect x="392.16" y="271.00" width="7.77" height="27.15" fill="#f8f5f6"/>
<rect x="399.33" y="271.00" width="7.77" height="27.15" fill="#f6f2f3"/>
<rect x="406.50" y="271.00" width="7.77" height="27.15" fill="#f8f4f5"/>
<rect x="413.67" y="271.00" width="7.77" height="27.15" fill="#f6f2f3"/>
<rect x="420.84" y="271.00" width="7.77" height="27.15" fill="#f9f7f7"/>
<rect x="428.01" y="271.00" width="7.77" height="27.15" fill="#f8f5f6"/>
<rect x="435.18" y="271.00" width="7.77" height="27.15" fill="#f8f5f6"/>
<rect x="442.35" y="271.00" width="7.77" height="27.15" fill="#ffffff"/>
<rect x="449.52" y="271.00" width="7.77" height="27.15" fill="#faf8f8"/>
<rect x="456.69" y="271.00" width="7.77" height="27.15" fill="#ecdfe0"/>
<rect x="463.86" y="271.00" width="7.77" height="27.15" fill="#faf8f8"/>
<rect x="471.03" y="271.00" width="7.77" height="27.15" fill="#e8dcdd"/>
<rect x="478.20" y="271.00" width="7.17" height="27.15" fill="#faf8f8"/>
<rect x="334.80" y="297.55" width="7.77" height="27.15" fill="#151210"/>
<rect x="341.97" y="297.55" width="7.77" height="27.15" fill="#151210"/>
<rect x="349.14" y="297.55" width="7.77" height="27.15" fill="#c49c9c"/>
<rect x="356.31" y="297.55" width="7.77" height="27.15" fill="#e3d3d4"/>
<rect x="363.48" y="297.55" width="7.77" height="27.15" fill="#faf8f8"/>
<rect x="370.65" y="297.55" width="7.77" height="27.15" fill="#ffffff"/>
<rect x="377.82" y="297.55" width="7.77" height="27.15" fill="#151210"/>
<rect x="384.99" y="297.55" width="7.77" height="27.15" fill="#eee2e4"/>
<rect x="392.16" y="297.55" width="7.77" height="27.15" fill="#fdfcfc"/>
<rect x="399.33" y="297.55" width="7.77" height="27.15" fill="#f9f6f7"/>
<rect x="406.50" y="297.55" width="7.77" height="27.15" fill="#f4eced"/>
<rect x="413.67" y="297.55" width="7.77" height="27.15" fill="#ffffff"/>
<rect x="420.84" y="297.55" width="7.77" height="27.15" fill="#ffffff"/>
<rect x="428.01" y="297.55" width="7.77" height="27.15" fill="#faf8f8"/>
<rect x="435.18" y="297.55" width="7.77" height="27.15" fill="#eee2e3"/>
<rect x="442.35" y="297.55" width="7.77" height="27.15" fill="#eee2e3"/>
<rect x="449.52" y="297.55" width="7.77" height="27.15" fill="#ffffff"/>
<rect x="456.69" y="297.55" width="7.77" height="27.15" fill="#fcfbfb"/>
<rect x="463.86" y="297.55" width="7.77" height="27.15" fill="#f9f7f7"/>
<rect x="471.03" y="297.55" width="7.77" height="27.15" fill="#f9f7f7"/>
<rect x="478.20" y="297.55" width="7.17" height="27.15" fill="#fcfbfb"/>
<rect x="334.80" y="324.10" width="7.77" height="27.15" fill="#151210"/>
<rect x="341.97" y="324.10" width="7.77" height="27.15" fill="#ffffff"/>
<rect x="349.14" y="324.10" width="7.77" height="27.15" fill="#faf7f8"/>
<rect x="356.31" y="324.10" width="7.77" height="27.15" fill="#faf8f8"/>
<rect x="363.48" y="324.10" width="7.77" height="27.15" fill="#fcfbfb"/>
<rect x="370.65" y="324.10" width="7.77" height="27.15" fill="#151210"/>
<rect x="377.82" y="324.10" width="7.77" height="27.15" fill="#f0e6e7"/>
<rect x="384.99" y="324.10" width="7.77" height="27.15" fill="#ffffff"/>
<rect x="392.16" y="324.10" width="7.77" height="27.15" fill="#fbf9f9"/>
<rect x="399.33" y="324.10" width="7.77" height="27.15" fill="#151210"/>
<rect x="406.50" y="324.10" width="7.77" height="27.15" fill="#fefefe"/>
<rect x="413.67" y="324.10" width="7.77" height="27.15" fill="#ffffff"/>
<rect x="420.84" y="324.10" width="7.77" height="27.15" fill="#fbf9f9"/>
<rect x="428.01" y="324.10" width="7.77" height="27.15" fill="#f6f1f2"/>
<rect x="435.18" y="324.10" width="7.77" height="27.15" fill="#ffffff"/>
<rect x="442.35" y="324.10" width="7.77" height="27.15" fill="#ffffff"/>
<rect x="449.52" y="324.10" width="7.77" height="27.15" fill="#f3ebec"/>
<rect x="456.69" y="324.10" width="7.77" height="27.15" fill="#f3ebec"/>
<rect x="463.86" y="324.10" width="7.77" height="27.15" fill="#ffffff"/>
<rect x="471.03" y="324.10" width="7.77" height="27.15" fill="#fefefe"/>
<rect x="478.20" y="324.10" width="7.17" height="27.15" fill="#f6f1f2"/>
<rect x="334.80" y="350.65" width="7.77" height="27.15" fill="#a45a5c"/>
<rect x="341.97" y="350.65" width="7.77" height="27.15" fill="#eee2e3"/>
<rect x="349.14" y="350.65" width="7.77" height="27.15" fill="#b47c7c"/>
<rect x="356.31" y="350.65" width="7.77" height="27.15" fill="#ece2e2"/>
<rect x="363.48" y="350.65" width="7.77" height="27.15" fill="#ac6e6e"/>
<rect x="370.65" y="350.65" width="7.77" height="27.15" fill="#f0e6e7"/>
<rect x="377.82" y="350.65" width="7.77" height="27.15" fill="#b47e7e"/>
<rect x="384.99" y="350.65" width="7.77" height="27.15" fill="#fcfbfb"/>
<rect x="392.16" y="350.65" width="7.77" height="27.15" fill="#e8dada"/>
<rect x="399.33" y="350.65" width="7.77" height="27.15" fill="#f9f6f6"/>
<rect x="406.50" y="350.65" width="7.77" height="27.15" fill="#dcc4c4"/>
<rect x="413.67" y="350.65" width="7.77" height="27.15" fill="#ffffff"/>
<rect x="420.84" y="350.65" width="7.77" height="27.15" fill="#fdfcfc"/>
<rect x="428.01" y="350.65" width="7.77" height="27.15" fill="#eadcdd"/>
<rect x="435.18" y="350.65" width="7.77" height="27.15" fill="#fcfbfb"/>
<rect x="442.35" y="350.65" width="7.77" height="27.15" fill="#c49898"/>
<rect x="449.52" y="350.65" width="7.77" height="27.15" fill="#d4b4b4"/>
<rect x="456.69" y="350.65" width="7.77" height="27.15" fill="#f3ebec"/>
<rect x="463.86" y="350.65" width="7.77" height="27.15" fill="#fbf9f9"/>
<rect x="471.03" y="350.65" width="7.77" height="27.15" fill="#ecdfe0"/>
<rect x="478.20" y="350.65" width="7.17" height="27.15" fill="#fefefe"/>
<rect x="334.80" y="377.20" width="7.77" height="26.55" fill="#f3ebec"/>
<rect x="341.97" y="377.20" width="7.77" height="26.55" fill="#eee4e5"/>
<rect x="349.14" y="377.20" width="7.77" height="26.55" fill="#151210"/>
<rect x="356.31" y="377.20" width="7.77" height="26.55" fill="#ffffff"/>
<rect x="363.48" y="377.20" width="7.77" height="26.55" fill="#f0e6e7"/>
<rect x="370.65" y="377.20" width="7.77" height="26.55" fill="#bc8a8a"/>
<rect x="377.82" y="377.20" width="7.77" height="26.55" fill="#c8a2a2"/>
<rect x="384.99" y="377.20" width="7.77" height="26.55" fill="#8a2a24"/>
<rect x="392.16" y="377.20" width="7.77" height="26.55" fill="#ffffff"/>
<rect x="399.33" y="377.20" width="7.77" height="26.55" fill="#ffffff"/>
<rect x="406.50" y="377.20" width="7.77" height="26.55" fill="#f0e6e7"/>
<rect x="413.67" y="377.20" width="7.77" height="26.55" fill="#ffffff"/>
<rect x="420.84" y="377.20" width="7.77" height="26.55" fill="#ffffff"/>
<rect x="428.01" y="377.20" width="7.77" height="26.55" fill="#f9f6f6"/>
<rect x="435.18" y="377.20" width="7.77" height="26.55" fill="#f0e6e7"/>
<rect x="442.35" y="377.20" width="7.77" height="26.55" fill="#151210"/>
<rect x="449.52" y="377.20" width="7.77" height="26.55" fill="#d0aeae"/>
<rect x="456.69" y="377.20" width="7.77" height="26.55" fill="#c49a9a"/>
<rect x="463.86" y="377.20" width="7.77" height="26.55" fill="#ecdfe0"/>
<rect x="471.03" y="377.20" width="7.77" height="26.55" fill="#e8dada"/>
<rect x="478.20" y="377.20" width="7.17" height="26.55" fill="#7a1e16"/>
<rect x="334.80" y="253.00" width="7.77" height="6.70" fill="#68a83e"/>
<rect x="334.80" y="262.30" width="7.77" height="6.90" fill="#68a83e"/>
<rect x="341.97" y="253.00" width="7.77" height="6.70" fill="#68a83e"/>
<rect x="341.97" y="262.30" width="7.77" height="6.90" fill="#68a83e"/>
<rect x="349.14" y="253.00" width="7.77" height="6.70" fill="#68a83e"/>
<rect x="349.14" y="262.30" width="7.77" height="6.90" fill="#68a83e"/>
<rect x="356.31" y="253.00" width="7.77" height="6.70" fill="#68a83e"/>
<rect x="356.31" y="262.30" width="7.77" height="6.90" fill="#68a83e"/>
<rect x="363.48" y="253.00" width="7.77" height="6.70" fill="#68a83e"/>
<rect x="363.48" y="262.30" width="7.77" height="6.90" fill="#68a83e"/>
<rect x="370.65" y="253.00" width="7.77" height="6.70" fill="#68a83e"/>
<rect x="370.65" y="262.30" width="7.77" height="6.90" fill="#e08a14"/>
<rect x="377.82" y="253.00" width="7.77" height="6.70" fill="#68a83e"/>
<rect x="377.82" y="262.30" width="7.77" height="6.90" fill="#e08a14"/>
<rect x="384.99" y="253.00" width="7.77" height="6.70" fill="#68a83e"/>
<rect x="384.99" y="262.30" width="7.77" height="6.90" fill="#68a83e"/>
<rect x="392.16" y="253.00" width="7.77" height="6.70" fill="#68a83e"/>
<rect x="392.16" y="262.30" width="7.77" height="6.90" fill="#68a83e"/>
<rect x="399.33" y="253.00" width="7.77" height="6.70" fill="#68a83e"/>
<rect x="399.33" y="262.30" width="7.77" height="6.90" fill="#68a83e"/>
<rect x="406.50" y="253.00" width="7.77" height="6.70" fill="#68a83e"/>
<rect x="406.50" y="262.30" width="7.77" height="6.90" fill="#68a83e"/>
<rect x="413.67" y="253.00" width="7.77" height="6.70" fill="#e08a14"/>
<rect x="413.67" y="262.30" width="7.77" height="6.90" fill="#68a83e"/>
<rect x="420.84" y="253.00" width="7.77" height="6.70" fill="#e08a14"/>
<rect x="420.84" y="262.30" width="7.77" height="6.90" fill="#e08a14"/>
<rect x="428.01" y="253.00" width="7.77" height="6.70" fill="#e08a14"/>
<rect x="428.01" y="262.30" width="7.77" height="6.90" fill="#e08a14"/>
<rect x="435.18" y="253.00" width="7.77" height="6.70" fill="#e08a14"/>
<rect x="435.18" y="262.30" width="7.77" height="6.90" fill="#e08a14"/>
<rect x="442.35" y="253.00" width="7.77" height="6.70" fill="#e08a14"/>
<rect x="442.35" y="262.30" width="7.77" height="6.90" fill="#e08a14"/>
<rect x="449.52" y="253.00" width="7.77" height="6.70" fill="#e08a14"/>
<rect x="449.52" y="262.30" width="7.77" height="6.90" fill="#e08a14"/>
<rect x="456.69" y="253.00" width="7.77" height="6.70" fill="#e08a14"/>
<rect x="456.69" y="262.30" width="7.77" height="6.90" fill="#68a83e"/>
<rect x="463.86" y="253.00" width="7.77" height="6.70" fill="#e08a14"/>
<rect x="463.86" y="262.30" width="7.77" height="6.90" fill="#e08a14"/>
<rect x="471.03" y="253.00" width="7.77" height="6.70" fill="#e08a14"/>
<rect x="471.03" y="262.30" width="7.77" height="6.90" fill="#e08a14"/>
<rect x="478.20" y="253.00" width="7.17" height="6.70" fill="#e08a14"/>
<rect x="478.20" y="262.30" width="7.17" height="6.90" fill="#e08a14"/>
<text x="338.38" y="258.60" font-size="6.2" fill="#fff" text-anchor="middle" stroke="#fff" stroke-width="0.13" font-weight="bold">4</text>
<text x="345.56" y="258.60" font-size="6.2" fill="#fff" text-anchor="middle" stroke="#fff" stroke-width="0.13" font-weight="bold">4</text>
<text x="352.72" y="258.60" font-size="6.2" fill="#fff" text-anchor="middle" stroke="#fff" stroke-width="0.13" font-weight="bold">4</text>
<text x="359.89" y="258.60" font-size="6.2" fill="#fff" text-anchor="middle" stroke="#fff" stroke-width="0.13" font-weight="bold">4</text>
<text x="367.06" y="258.60" font-size="6.2" fill="#fff" text-anchor="middle" stroke="#fff" stroke-width="0.13" font-weight="bold">3</text>
<text x="374.24" y="258.60" font-size="6.2" fill="#fff" text-anchor="middle" stroke="#fff" stroke-width="0.13" font-weight="bold">2</text>
<text x="381.40" y="258.60" font-size="6.2" fill="#fff" text-anchor="middle" stroke="#fff" stroke-width="0.13" font-weight="bold">2</text>
<text x="388.57" y="258.60" font-size="6.2" fill="#fff" text-anchor="middle" stroke="#fff" stroke-width="0.13" font-weight="bold">1</text>
<text x="395.75" y="258.60" font-size="6.2" fill="#fff" text-anchor="middle" stroke="#fff" stroke-width="0.13" font-weight="bold">1</text>
<text x="402.92" y="258.60" font-size="6.2" fill="#fff" text-anchor="middle" stroke="#fff" stroke-width="0.13" font-weight="bold">1</text>
<text x="410.08" y="258.60" font-size="6.2" fill="#fff" text-anchor="middle" stroke="#fff" stroke-width="0.13" font-weight="bold">1</text>
<text x="417.25" y="258.60" font-size="6.2" fill="#fff" text-anchor="middle" stroke="#fff" stroke-width="0.13" font-weight="bold">0</text>
<text x="424.43" y="258.60" font-size="6.2" fill="#fff" text-anchor="middle" stroke="#fff" stroke-width="0.13" font-weight="bold">0</text>
<text x="431.59" y="258.60" font-size="6.2" fill="#fff" text-anchor="middle" stroke="#fff" stroke-width="0.13" font-weight="bold">0</text>
<text x="438.76" y="258.60" font-size="6.2" fill="#fff" text-anchor="middle" stroke="#fff" stroke-width="0.13" font-weight="bold">0</text>
<text x="445.94" y="258.60" font-size="6.2" fill="#fff" text-anchor="middle" stroke="#fff" stroke-width="0.13" font-weight="bold">0</text>
<text x="453.10" y="258.60" font-size="6.2" fill="#fff" text-anchor="middle" stroke="#fff" stroke-width="0.13" font-weight="bold">0</text>
<text x="460.27" y="258.60" font-size="6.2" fill="#fff" text-anchor="middle" stroke="#fff" stroke-width="0.13" font-weight="bold">-1</text>
<text x="467.44" y="258.60" font-size="6.2" fill="#fff" text-anchor="middle" stroke="#fff" stroke-width="0.13" font-weight="bold">-1</text>
<text x="474.61" y="258.60" font-size="6.2" fill="#fff" text-anchor="middle" stroke="#fff" stroke-width="0.13" font-weight="bold">-1</text>
<text x="481.79" y="258.60" font-size="6.2" fill="#fff" text-anchor="middle" stroke="#fff" stroke-width="0.13" font-weight="bold">-1</text>
<text x="331.20" y="258.20" font-size="6.8" fill="#222" text-anchor="end" stroke="#222" stroke-width="0.13" textLength="48.1" lengthAdjust="spacingAndGlyphs">Flow prediction</text>
<text x="331.20" y="267.40" font-size="6.8" fill="#222" text-anchor="end" stroke="#222" stroke-width="0.13" textLength="45.4" lengthAdjust="spacingAndGlyphs">Ex vivo testing</text>
<text x="488.80" y="286.77" font-size="6.9" fill="#222" text-anchor="start" stroke="#222" stroke-width="0.13">CD79</text>
<text x="488.80" y="313.32" font-size="6.9" fill="#222" text-anchor="start" stroke="#222" stroke-width="0.13">CD20</text>
<text x="488.80" y="339.88" font-size="6.9" fill="#222" text-anchor="start" stroke="#222" stroke-width="0.13">CD45</text>
<text x="488.80" y="366.42" font-size="6.9" fill="#222" text-anchor="start" stroke="#222" stroke-width="0.13">CD86</text>
<text x="488.80" y="392.97" font-size="6.9" fill="#222" text-anchor="start" stroke="#222" stroke-width="0.13">CD28</text>
<text x="340.58" y="406.90" font-size="6.25" fill="#222" text-anchor="end" stroke="#222" stroke-width="0.13" transform="rotate(-90 340.58 406.90)">PS1620</text>
<text x="347.75" y="406.90" font-size="6.25" fill="#222" text-anchor="end" stroke="#222" stroke-width="0.13" transform="rotate(-90 347.75 406.90)">PS1663</text>
<text x="354.92" y="406.90" font-size="6.25" fill="#222" text-anchor="end" stroke="#222" stroke-width="0.13" transform="rotate(-90 354.92 406.90)">PS1664</text>
<text x="362.09" y="406.90" font-size="6.25" fill="#222" text-anchor="end" stroke="#222" stroke-width="0.13" transform="rotate(-90 362.09 406.90)">PS1719</text>
<text x="369.26" y="406.90" font-size="6.25" fill="#222" text-anchor="end" stroke="#222" stroke-width="0.13" transform="rotate(-90 369.26 406.90)">PS1667</text>
<text x="376.44" y="406.90" font-size="6.25" fill="#222" text-anchor="end" stroke="#222" stroke-width="0.13" transform="rotate(-90 376.44 406.90)">PS1686</text>
<text x="383.60" y="406.90" font-size="6.25" fill="#222" text-anchor="end" stroke="#222" stroke-width="0.13" transform="rotate(-90 383.60 406.90)">PS1717</text>
<text x="390.77" y="406.90" font-size="6.25" fill="#222" text-anchor="end" stroke="#222" stroke-width="0.13" transform="rotate(-90 390.77 406.90)">PS1658</text>
<text x="397.94" y="406.90" font-size="6.25" fill="#222" text-anchor="end" stroke="#222" stroke-width="0.13" transform="rotate(-90 397.94 406.90)">PS1350</text>
<text x="405.12" y="406.90" font-size="6.25" fill="#222" text-anchor="end" stroke="#222" stroke-width="0.13" transform="rotate(-90 405.12 406.90)">PS1499</text>
<text x="412.28" y="406.90" font-size="6.25" fill="#222" text-anchor="end" stroke="#222" stroke-width="0.13" transform="rotate(-90 412.28 406.90)">PS1618</text>
<text x="419.45" y="406.90" font-size="6.25" fill="#222" text-anchor="end" stroke="#222" stroke-width="0.13" transform="rotate(-90 419.45 406.90)">PS1669</text>
<text x="426.62" y="406.90" font-size="6.25" fill="#222" text-anchor="end" stroke="#222" stroke-width="0.13" transform="rotate(-90 426.62 406.90)">PS1695</text>
<text x="433.79" y="406.90" font-size="6.25" fill="#222" text-anchor="end" stroke="#222" stroke-width="0.13" transform="rotate(-90 433.79 406.90)">PS1555</text>
<text x="440.96" y="406.90" font-size="6.25" fill="#222" text-anchor="end" stroke="#222" stroke-width="0.13" transform="rotate(-90 440.96 406.90)">PS1824</text>
<text x="448.13" y="406.90" font-size="6.25" fill="#222" text-anchor="end" stroke="#222" stroke-width="0.13" transform="rotate(-90 448.13 406.90)">PS1666</text>
<text x="455.30" y="406.90" font-size="6.25" fill="#222" text-anchor="end" stroke="#222" stroke-width="0.13" transform="rotate(-90 455.30 406.90)">PS1702</text>
<text x="462.47" y="406.90" font-size="6.25" fill="#222" text-anchor="end" stroke="#222" stroke-width="0.13" transform="rotate(-90 462.47 406.90)">PS1198</text>
<text x="469.64" y="406.90" font-size="6.25" fill="#222" text-anchor="end" stroke="#222" stroke-width="0.13" transform="rotate(-90 469.64 406.90)">PS1243</text>
<text x="476.81" y="406.90" font-size="6.25" fill="#222" text-anchor="end" stroke="#222" stroke-width="0.13" transform="rotate(-90 476.81 406.90)">PS1589</text>
<text x="483.99" y="406.90" font-size="6.25" fill="#222" text-anchor="end" stroke="#222" stroke-width="0.13" transform="rotate(-90 483.99 406.90)">PS1647</text>
<defs><linearGradient id="gE" x1="0" y1="0" x2="0" y2="1"><stop offset="0" stop-color="#000"/><stop offset="0.5" stop-color="#6e1c1c"/><stop offset="0.8" stop-color="#c89a9a"/><stop offset="1" stop-color="#fff"/></linearGradient></defs>
<rect x="310.6" y="273.2" width="2.8" height="71.9" fill="url(#gE)" stroke="#555" stroke-width="0.6"/>
<line x1="313.40" y1="273.20" x2="316.70" y2="273.20" stroke="#333" stroke-width="0.7"/>
<line x1="313.40" y1="287.58" x2="316.70" y2="287.58" stroke="#333" stroke-width="0.7"/>
<line x1="313.40" y1="301.96" x2="316.70" y2="301.96" stroke="#333" stroke-width="0.7"/>
<line x1="313.40" y1="316.34" x2="316.70" y2="316.34" stroke="#333" stroke-width="0.7"/>
<line x1="313.40" y1="330.72" x2="316.70" y2="330.72" stroke="#333" stroke-width="0.7"/>
<line x1="313.40" y1="345.10" x2="316.70" y2="345.10" stroke="#333" stroke-width="0.7"/>
<text x="320.80" y="275.60" font-size="6.8" fill="#222" text-anchor="start" stroke="#222" stroke-width="0.13" textLength="11.3" lengthAdjust="spacingAndGlyphs">100</text>
<text x="319.80" y="347.50" font-size="6.8" fill="#222" text-anchor="start" stroke="#222" stroke-width="0.13">0</text>
<text x="305.60" y="309.20" font-size="8.2" fill="#222" text-anchor="middle" stroke="#222" stroke-width="0.13" textLength="28.8" lengthAdjust="spacingAndGlyphs" transform="rotate(-90 305.60 309.20)">MFI ratio</text>
<rect x="0" y="0" width="520" height="1.05" fill="#000"/><rect x="0" y="0" width="1.05" height="438" fill="#000"/><rect x="518.6" y="0" width="1.4" height="438" fill="#000"/><rect x="0" y="436.5" width="520" height="1.5" fill="#000"/>
</svg>
</body></html>
